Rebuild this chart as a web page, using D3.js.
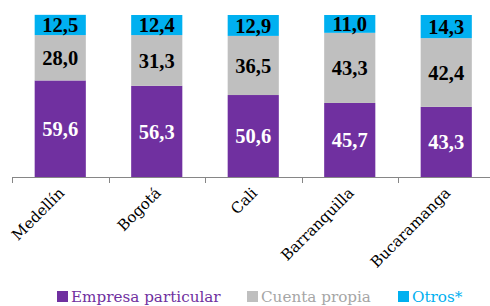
<!DOCTYPE html>
<html>
<head>
<meta charset="utf-8">
<script src="https://cdn.jsdelivr.net/npm/d3@7"></script>
<style>
  body { margin: 0; background: #fff; }
  svg { display: block; }
</style>
</head>
<body>
<div id="chart"></div>
<script>
const w = 490;
const h = 306;

const cities = ["Medellín", "Bogotá", "Cali", "Barranquilla", "Bucaramanga"];
const empresa = [59.6, 56.3, 50.6, 45.7, 43.3];
const cuenta = [28.0, 31.3, 36.5, 43.3, 42.4];
const otros = [12.5, 12.4, 12.9, 11.0, 14.3];

const seriesNames = ["Empresa particular", "Cuenta propia", "Otros*"];
const colors = ["#7030A0", "#BFBFBF", "#00B0F0"];
const labelColors = ["#ffffff", "#000000", "#000000"];

const rows = cities.map((c, i) => ({ city: c, s0: empresa[i], s1: cuenta[i], s2: otros[i] }));
const stack = d3.stack().keys(["s0", "s1", "s2"]);
const layers = stack(rows);

const svg = d3.select("#chart")
  .append("svg")
  .attr("width", w)
  .attr("height", h);

const x = d3.scaleBand()
  .domain(cities)
  .range([12, 494.5])
  .paddingInner(0.47)
  .paddingOuter(0.235);

const y = d3.scaleLinear()
  .domain([0, 100])
  .range([177, 15]);

// bars
const layer = svg.selectAll(".layer")
  .data(layers)
  .enter()
  .append("g")
  .attr("class", "layer")
  .attr("fill", (d, i) => colors[i]);

layer.selectAll("rect")
  .data(d => d)
  .enter()
  .append("rect")
  .attr("x", d => x(d.data.city))
  .attr("y", d => y(d[1]))
  .attr("width", x.bandwidth())
  .attr("height", d => y(d[0]) - y(d[1]));

// value labels
layers.forEach((l, i) => {
  svg.selectAll(".lbl" + i)
    .data(l)
    .enter()
    .append("text")
    .attr("x", d => x(d.data.city) + x.bandwidth() / 2)
    .attr("y", d => (y(d[0]) + y(d[1])) / 2)
    .attr("dy", "0.36em")
    .attr("text-anchor", "middle")
    .attr("fill", labelColors[i])
    .style("font-family", "'Liberation Serif', serif")
    .style("font-weight", "bold")
    .style("font-size", "20.5px")
    .text(d => (d[1] - d[0]).toFixed(1).replace(".", ","));
});

// x axis, ticks between categories
const axisG = svg.append("g");
axisG.append("line")
  .attr("x1", 12).attr("x2", w)
  .attr("y1", 177.5).attr("y2", 177.5)
  .attr("stroke", "#868686");

const step = x.step();
const tickPos = d3.range(cities.length + 1).map(i => 12 + i * step);
axisG.selectAll(".tick")
  .data(tickPos)
  .enter()
  .append("line")
  .attr("x1", d => Math.round(d) + 0.5)
  .attr("x2", d => Math.round(d) + 0.5)
  .attr("y1", 177)
  .attr("y2", 183)
  .attr("stroke", "#868686");

svg.selectAll(".xlabel")
  .data(cities)
  .enter()
  .append("text")
  .attr("text-anchor", "end")
  .attr("transform", d => "translate(" + (x(d) + x.bandwidth() / 2 + 5) + ",194) rotate(-45)")
  .style("font-family", "'DejaVu Serif', serif")
  .style("font-size", "15px")
  .attr("fill", "#000")
  .text(d => d);

// legend
const legendX = [57, 247, 398];
const legend = svg.selectAll(".legend")
  .data(seriesNames)
  .enter()
  .append("g")
  .attr("transform", (d, i) => "translate(" + legendX[i] + ",291)");

legend.append("rect")
  .attr("width", 11)
  .attr("height", 11)
  .attr("fill", (d, i) => colors[i]);

legend.append("text")
  .attr("x", 14)
  .attr("y", 10.5)
  .attr("fill", (d, i) => i === 1 ? "#A6A6A6" : colors[i])
  .style("font-family", "'DejaVu Serif', serif")
  .style("font-size", "15.2px")
  .text(d => d);
</script>
</body>
</html>
